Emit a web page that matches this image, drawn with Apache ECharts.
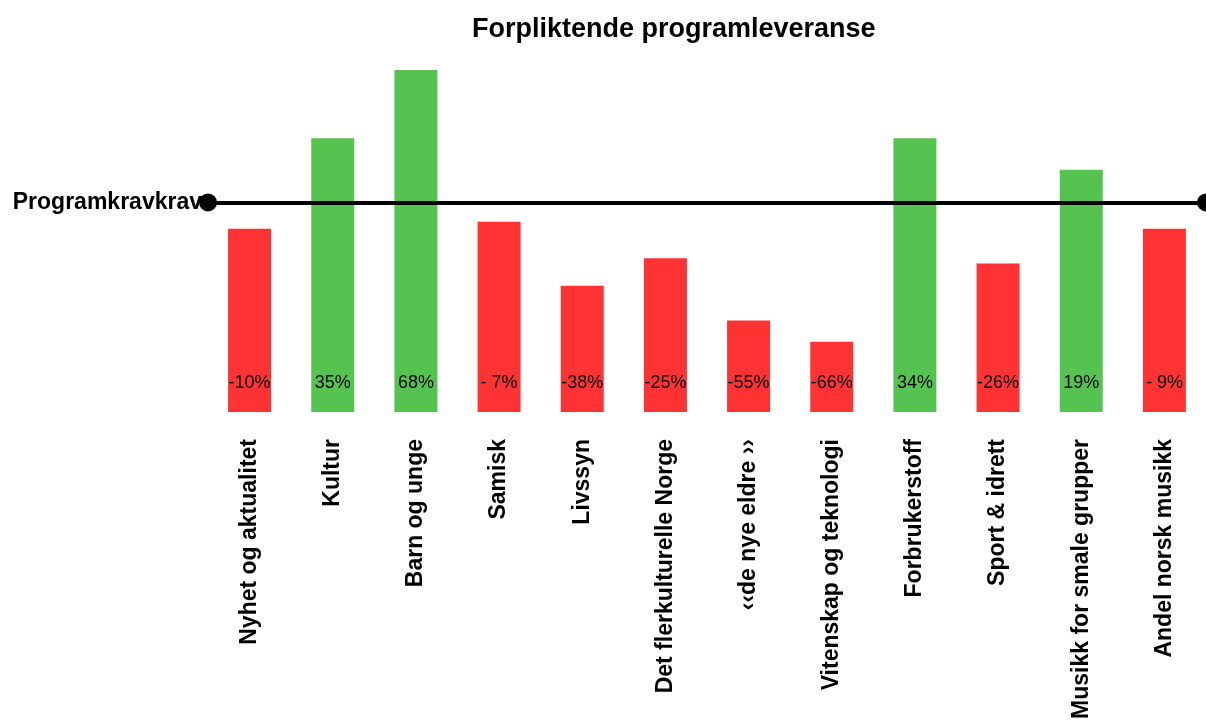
<!DOCTYPE html>
<html>
<head>
<meta charset="utf-8">
<script src="https://cdn.jsdelivr.net/npm/echarts@6/dist/echarts.min.js"></script>
<style>
  html, body { margin: 0; padding: 0; background: #fff; }
  #chart { width: 1206px; height: 722px; }
</style>
</head>
<body>
<div id="chart"></div>
<script>
// categories and values (bar value ~ 100 + deviation from requirement)
var categories = [
  "Nyhet og aktualitet", "Kultur", "Barn og unge", "Samisk", "Livssyn",
  "Det flerkulturelle Norge", "\u2039\u2039de nye eldre \u203a\u203a",
  "Vitenskap og teknologi", "Forbrukerstoff", "Sport & idrett",
  "Musikk for smale grupper", "Andel norsk musikk"
];
var values = [90, 134.5, 168, 93.5, 62, 75.5, 45, 34.5, 134.5, 73, 119, 90];
var labels = ["-10%", "35%", "68%", "- 7%", "-38%", "-25%", "-55%", "-66%", "34%", "-26%", "19%", "- 9%"];
var requirement = 103;

var dom = document.getElementById("chart");
var chart = echarts.init(dom, null, { renderer: "canvas" });

var option = {
  animation: false,
  textStyle: { fontFamily: "Liberation Sans, Arial, sans-serif" },
  title: {
    text: "Forpliktende programleveranse",
    left: 467,
    top: 11,
    textStyle: { fontSize: 27, fontWeight: "bold", color: "#000" },
  },
  grid: {
    left: 208,
    width: 1002,
    top: 5,
    bottom: 310,
  },
  xAxis: {
    type: "category",
    data: categories,
    axisLine: { show: false },
    axisTick: { show: false },
    axisLabel: {
      rotate: 90,
      margin: 27,
      interval: 0,
      fontSize: 23,
      fontWeight: "bold",
      color: "#000",
    },
  },
  yAxis: {
    type: "value",
    min: 0,
    max: 200,
    show: false,
    splitLine: { show: false },
  },
  series: [
    {
      type: "bar",
      barWidth: 43,
      data: values.map(function (v, i) {
        return {
          value: v,
          itemStyle: { color: v >= 100 ? "#55C34F" : "#FF3333" },
        };
      }),
      label: {
        show: true,
        position: "insideBottom",
        distance: 20,
        fontSize: 18,
        color: "#000",
        formatter: function (p) {
          return labels[p.dataIndex];
        },
      },
      markLine: {
        silent: true,
        symbol: ["circle", "circle"],
        symbolSize: 18,
        lineStyle: { color: "#000", width: 4, type: "solid" },
        label: {
          show: true,
          position: "start",
          distance: 6,
          formatter: "Programkravkrav",
          fontSize: 23,
          fontWeight: "bold",
          color: "#000",
        },
        data: [{ yAxis: requirement }],
      },
    },
  ],
};

if (option && typeof option === "object") {
  chart.setOption(option);
}

window.addEventListener("resize", chart.resize);
</script>
</body>
</html>
